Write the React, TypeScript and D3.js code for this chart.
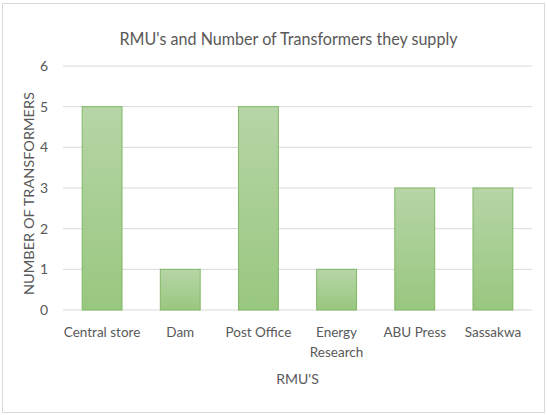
import React from "react";
import * as d3 from "d3";

const rmus = ["Central store", "Dam", "Post Office", "Energy Research", "ABU Press", "Sassakwa"];
const transformers = [5, 1, 5, 1, 3, 3];
const yTicks = [0, 1, 2, 3, 4, 5, 6];
const tickLines: Record<string, string[]> = {
  "Energy Research": ["Energy", "Research"],
};

const width = 547;
const height = 415;
const margin = { top: 66, right: 15, bottom: 105, left: 63 };
const font = "Lato, 'Open Sans', sans-serif";
const textColor = "#595959";

const App = () => {
  const x = d3
    .scaleBand()
    .domain(rmus)
    .range([margin.left, width - margin.right])
    .paddingInner(0.49)
    .paddingOuter(0.245);

  const y = d3
    .scaleLinear()
    .domain([0, 6])
    .range([height - margin.bottom, margin.top]);

  const plotMid = (margin.left + width - margin.right) / 2;

  return (
    <svg
      width={width}
      height={height}
      style={{ position: "absolute", left: 0, top: 0, background: "#fff" }}
      fontFamily={font}
    >
      <defs>
        <linearGradient id="barFill" x1="0" y1="0" x2="0" y2="1">
          <stop offset="0%" stopColor="#b7d5a7" />
          <stop offset="100%" stopColor="#98c77f" />
        </linearGradient>
      </defs>
      <rect x={2.5} y={3.5} width={542} height={409} fill="#fff" stroke="#d9d9d9" />

      <text
        x={plotMid - 9}
        y={45}
        textAnchor="middle"
        fontSize={17}
        fill={textColor}
        textLength={338}
        lengthAdjust="spacingAndGlyphs"
      >
        RMU's and Number of Transformers they supply
      </text>

      {yTicks.map((t) => (
        <g key={t}>
          <line
            x1={margin.left}
            x2={width - margin.right}
            y1={y(t)}
            y2={y(t)}
            stroke="#d9d9d9"
            strokeWidth={1}
          />
          <text x={48} y={y(t)} dy="0.35em" textAnchor="end" fontSize={14} fill={textColor}>
            {t}
          </text>
        </g>
      ))}

      {rmus.map((r, i) => (
        <rect
          key={r}
          x={x(r)}
          y={y(transformers[i])}
          width={x.bandwidth()}
          height={y(0) - y(transformers[i])}
          fill="url(#barFill)"
          stroke="#82b866"
          strokeWidth={1}
        />
      ))}

      {rmus.map((r) => {
        const lines = tickLines[r] || [r];
        const cx = (x(r) as number) + x.bandwidth() / 2;
        return (
          <text key={r} x={cx} y={337} textAnchor="middle" fontSize={13.5} fill={textColor}>
            {lines.map((l, j) => (
              <tspan key={l} x={cx} dy={j === 0 ? 0 : 20}>
                {l}
              </tspan>
            ))}
          </text>
        );
      })}

      <text x={plotMid} y={384} textAnchor="middle" fontSize={14} fill={textColor}>
        RMU'S
      </text>

      <text
        transform={`translate(34, 193.5) rotate(-90)`}
        textAnchor="middle"
        fontSize={14}
        fill={textColor}
        textLength={203}
        lengthAdjust="spacingAndGlyphs"
      >
        NUMBER OF TRANSFORMERS
      </text>
    </svg>
  );
};

export default App;
